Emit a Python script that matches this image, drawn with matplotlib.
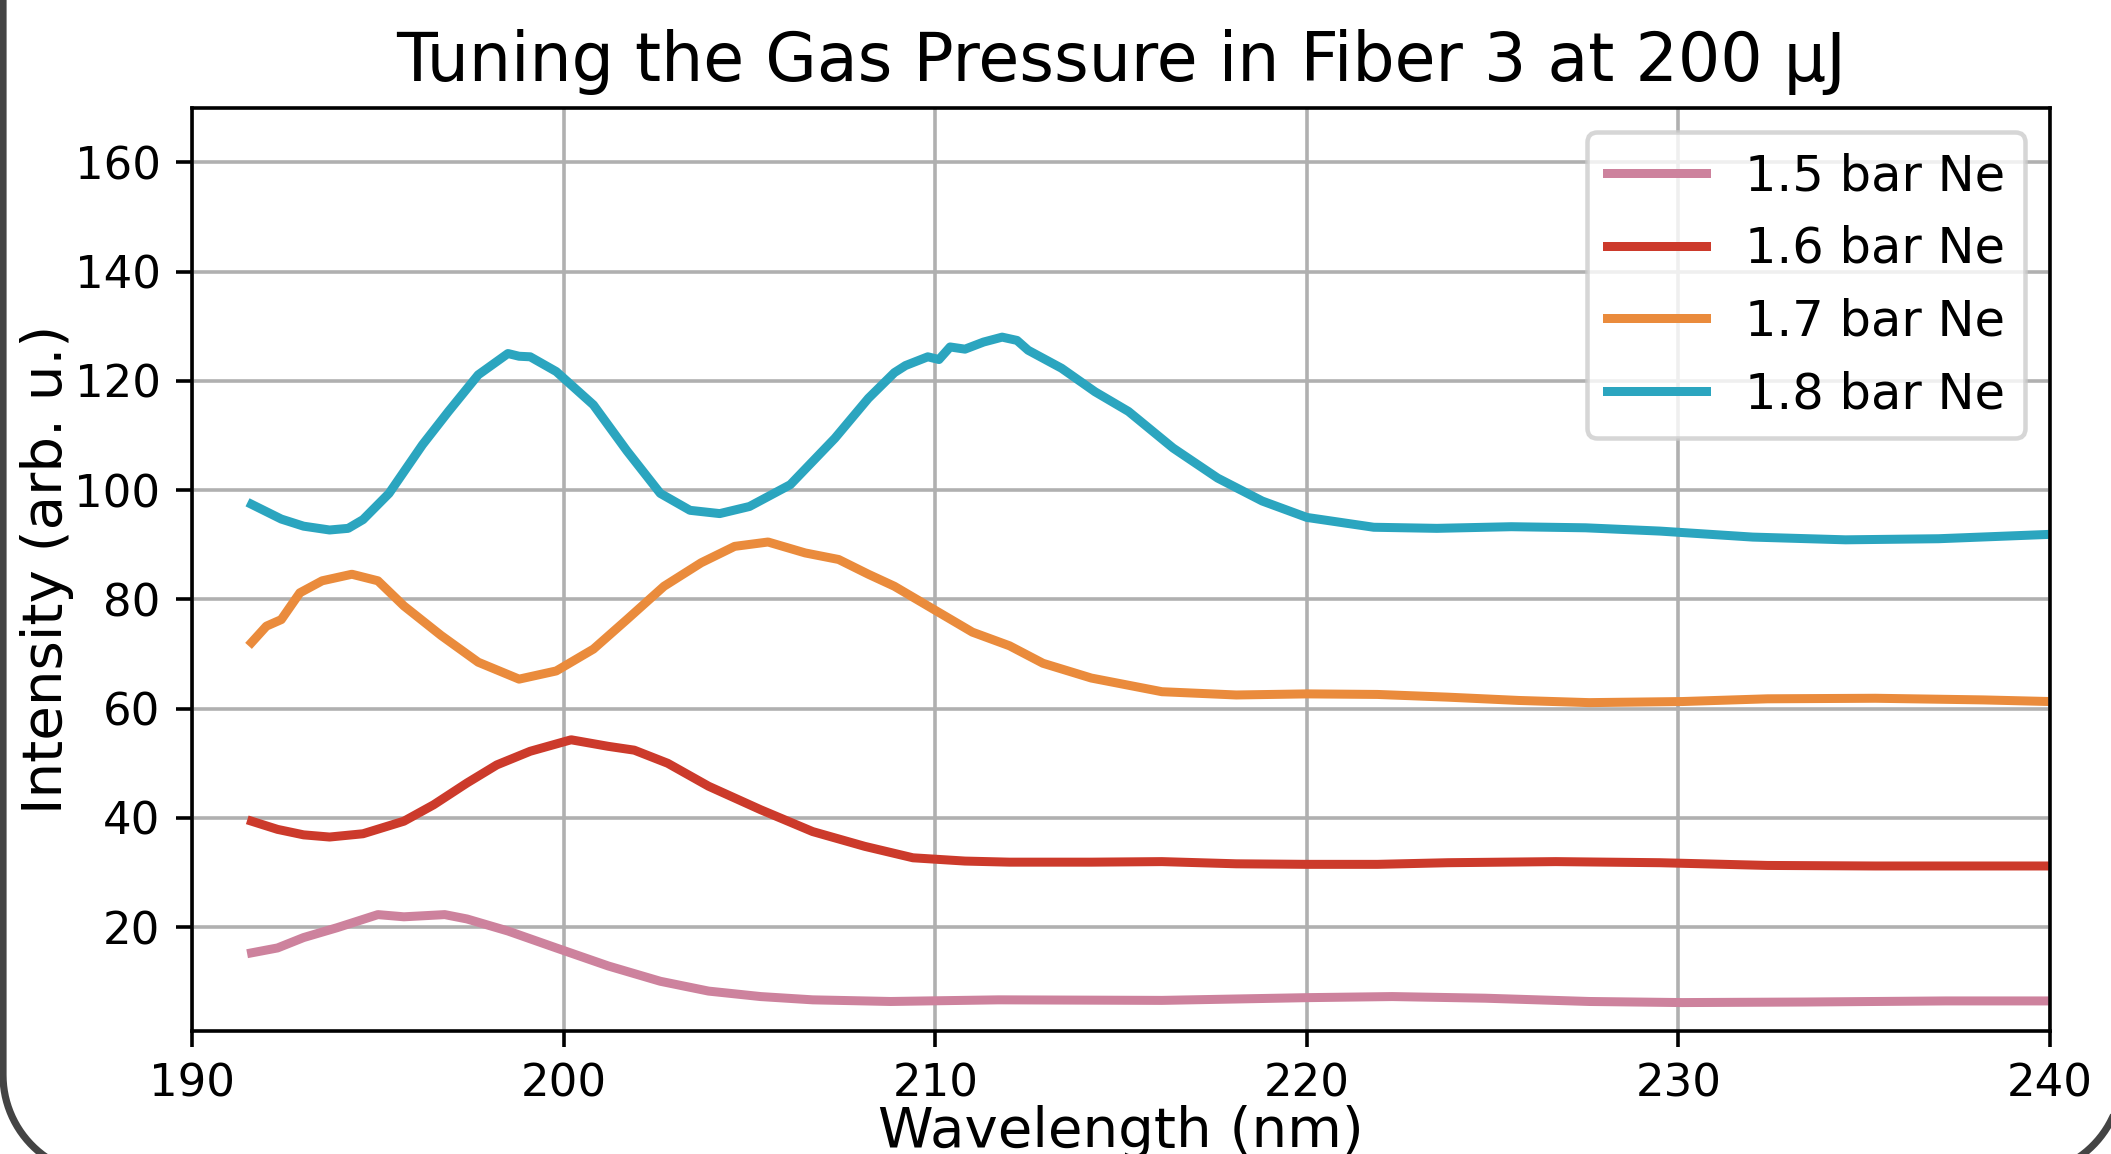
import numpy as np
import matplotlib
matplotlib.use("Agg")
import matplotlib.pyplot as plt

# wavelength (nm) / intensity (arb. u.)
wl_15 = [191.6, 192.3, 193.0, 193.9, 195.0, 195.7, 196.8, 197.4, 198.5, 199.8,
         201.2, 202.6, 203.9, 205.3, 206.7, 208.8, 211.7, 216.1, 220.0, 222.3,
         224.8, 227.6, 230.1, 233.4, 237.2, 240.0]
int_15 = [15.3, 16.2, 18.1, 19.9, 22.3, 21.9, 22.3, 21.5, 19.3, 16.2,
          12.9, 10.1, 8.3, 7.3, 6.7, 6.4, 6.7, 6.6, 7.1, 7.3,
          7.0, 6.4, 6.2, 6.3, 6.5, 6.5]

wl_16 = [191.6, 192.3, 193.0, 193.7, 194.6, 195.7, 196.5, 197.4, 198.2, 199.1,
         200.2, 201.2, 201.9, 202.8, 203.9, 205.3, 206.7, 208.1, 209.4, 210.8,
         212.0, 214.2, 216.1, 218.1, 220.0, 221.9, 223.8, 226.7, 229.5, 232.4,
         235.3, 240.0]
int_16 = [39.4, 37.9, 36.9, 36.5, 37.1, 39.4, 42.4, 46.4, 49.7, 52.2,
          54.3, 53.1, 52.4, 50.0, 45.8, 41.5, 37.5, 34.8, 32.7, 32.1,
          31.9, 31.9, 32.0, 31.6, 31.5, 31.5, 31.8, 32.0, 31.8, 31.3,
          31.2, 31.2]

wl_17 = [191.6, 192.0, 192.4, 192.9, 193.5, 194.3, 195.0, 195.7, 196.7, 197.7,
         198.8, 199.8, 200.8, 201.7, 202.7, 203.7, 204.6, 205.5, 206.5, 207.4,
         208.2, 208.9, 210.1, 211.0, 212.0, 212.9, 214.2, 216.1, 218.1, 220.0,
         221.9, 223.8, 225.7, 227.6, 230.1, 232.4, 235.3, 238.2, 240.0]
int_17 = [72.1, 75.1, 76.3, 81.2, 83.4, 84.6, 83.4, 78.8, 73.4, 68.5,
          65.4, 66.9, 70.9, 76.3, 82.4, 86.7, 89.7, 90.5, 88.5, 87.3,
          84.6, 82.4, 77.6, 74.0, 71.5, 68.3, 65.6, 63.1, 62.5, 62.7,
          62.6, 62.1, 61.5, 61.1, 61.3, 61.8, 61.9, 61.6, 61.3]

wl_18 = [191.6, 192.4, 193.0, 193.7, 194.2, 194.6, 195.3, 196.2, 196.9, 197.7,
         198.5, 198.8, 199.1, 199.8, 200.8, 201.7, 202.6, 203.4, 204.2, 205.0,
         206.1, 207.3, 208.2, 208.9, 209.2, 209.8, 210.1, 210.4, 210.8, 211.3,
         211.8, 212.2, 212.5, 213.4, 214.3, 215.2, 216.4, 217.6, 218.8, 220.0,
         221.8, 223.5, 225.5, 227.5, 229.5, 232.0, 234.5, 237.0, 240.0]
int_18 = [97.4, 94.7, 93.4, 92.7, 93.0, 94.6, 99.4, 108.3, 114.4, 121.1,
          125.0, 124.5, 124.4, 121.7, 115.6, 107.2, 99.4, 96.3, 95.7, 97.0,
          101.0, 109.5, 116.8, 121.5, 122.8, 124.4, 123.9, 126.2, 125.8, 127.1,
          128.0, 127.4, 125.6, 122.3, 118.0, 114.4, 107.7, 102.2, 98.0, 95.0,
          93.2, 93.0, 93.3, 93.1, 92.5, 91.4, 90.9, 91.1, 91.9]

series = [
    (wl_15, int_15, "1.5 bar Ne", "#cd829d"),
    (wl_16, int_16, "1.6 bar Ne", "#cc3a2b"),
    (wl_17, int_17, "1.7 bar Ne", "#ea8b3c"),
    (wl_18, int_18, "1.8 bar Ne", "#2ba5bf"),
]

W, H = 2111, 1154
DPI = 324
fig = plt.figure(figsize=(W / DPI, H / DPI), dpi=DPI)

# background axes in pixel units, only for the rounded screenshot frame
bg = fig.add_axes([0, 0, 1, 1], zorder=-1)
bg.set_xlim(0, W)
bg.set_ylim(H, 0)
bg.axis("off")
x_l, x_r, y_b, r = 3, 2122, 1175, 100
t = np.linspace(0, np.pi / 2, 30)
fx = np.concatenate([[x_l, x_l], x_l + r - r * np.cos(t),
                     x_r - r + r * np.sin(t), [x_r]])
fy = np.concatenate([[-20, y_b - r], y_b - r + r * np.sin(t),
                     y_b - r + r * np.cos(t), [-20]])
bg.plot(fx, fy, color="#444444", lw=1.6, clip_on=False)

ax = fig.add_axes([0.0910, 0.1066, 0.8801, 0.8001])

for wl, inten, label, color in series:
    ax.plot(wl, inten, color=color, lw=2, label=label)

ax.set_xlim(190, 240)
ax.set_ylim(1, 170)
ax.set_yticks([20, 40, 60, 80, 100, 120, 140, 160])
ax.tick_params(labelsize=10)
ax.grid(True)
ax.set_xlabel("Wavelength (nm)", fontsize=12.5, labelpad=0)
ax.set_ylabel("Intensity (arb. u.)", fontsize=12.5, labelpad=0)
ax.set_title("Tuning the Gas Pressure in Fiber 3 at 200 µJ", fontsize=14.8)
ax.legend(loc="upper right", fontsize=11)

fig.savefig("out.png", dpi=DPI)
